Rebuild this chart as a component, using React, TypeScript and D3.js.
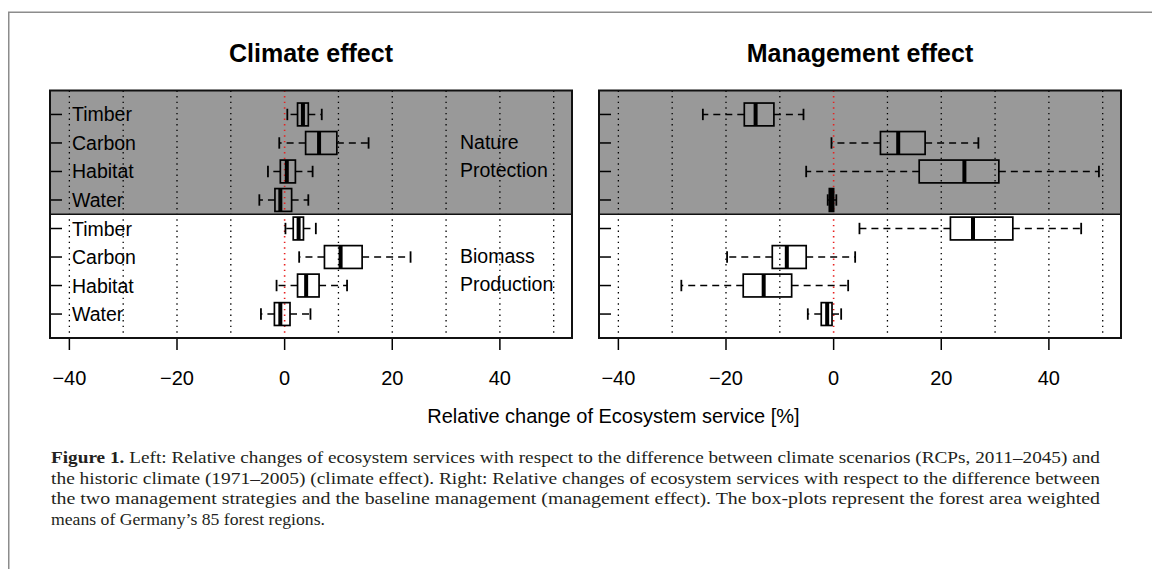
import React from 'react';
import * as d3 from 'd3';

// box stats per row: [lower whisker, q1, median, q3, upper whisker]
const services = ['Timber', 'Carbon', 'Habitat', 'Water', 'Timber', 'Carbon', 'Habitat', 'Water'];
const groupLabels = [['Nature', 'Protection'], ['Biomass', 'Production']];

const climateStats = [
  [0.5, 2.4, 3.4, 4.4, 6.9],
  [-1.0, 3.9, 6.4, 9.7, 15.6],
  [-3.1, -0.8, 0.4, 2.0, 5.2],
  [-4.7, -1.8, -0.8, 1.3, 4.4],
  [0.15, 1.6, 2.6, 3.5, 5.8],
  [2.7, 7.4, 10.4, 14.4, 23.4],
  [-1.5, 2.4, 4.0, 6.4, 11.6],
  [-4.4, -1.9, -0.8, 1.0, 4.8],
];

const managementStats = [
  [-24.3, -16.6, -14.5, -11.1, -5.6],
  [-0.4, 8.7, 12.0, 17.0, 26.9],
  [-5.1, 15.9, 24.3, 30.7, 49.3],
  [-1.1, -0.8, -0.4, 0.0, 0.5],
  [4.8, 21.7, 25.9, 33.3, 46.0],
  [-19.8, -11.4, -8.7, -5.1, 4.0],
  [-28.3, -16.8, -13.0, -7.8, 2.7],
  [-4.8, -2.3, -1.2, -0.3, 1.4],
];

const xTicks = [-40, -20, 0, 20, 40];
const gridValues = [-40, -30, -20, -10, 0, 10, 20, 30, 40, 50];

const captionLines = [
  'Left: Relative changes of ecosystem services with respect to the difference between climate scenarios (RCPs, 2011\u20132045) and',
  'the historic climate (1971\u20132005) (climate effect). Right: Relative changes of ecosystem services with respect to the difference between',
  'the two management strategies and the baseline management (management effect). The box-plots represent the forest area weighted',
  'means of Germany\u2019s 85 forest regions.',
];

const SANS = '"Liberation Sans", Arial, Helvetica, sans-serif';
const SERIF = '"Liberation Serif", "Times New Roman", serif';

const yScale = d3.scaleLinear().domain([0.16, 8.84]).range([90.5, 338]);

interface PanelProps {
  left: number;
  right: number;
  title: string;
  stats: number[][];
  showLabels: boolean;
}

const Panel: React.FC<PanelProps> = ({ left, right, title, stats, showLabels }) => {
  const x = d3.scaleLinear().domain([-43.6, 53.4]).range([left, right]);
  const [y0, y1] = yScale.range();
  const rows = d3.range(1, 9);
  const half = yScale(1.4) - yScale(1);
  const cap = yScale(1.2) - yScale(1);

  return (
    <g>
      <text x={(left + right) / 2} y={61.5} textAnchor="middle" fontFamily={SANS}
        fontWeight="bold" fontSize={25}>{title}</text>
      <rect x={left} y={y0} width={right - left} height={yScale(4.5) - y0} fill="#999999" />
      {gridValues.map(v => (
        <line key={v} x1={x(v)} x2={x(v)} y1={y0} y2={y1}
          stroke={v === 0 ? '#e8211f' : '#000'} strokeWidth={v === 0 ? 1.6 : 1.3} strokeDasharray="1.4 4.2" />
      ))}
      <line x1={left} x2={right} y1={yScale(4.5)} y2={yScale(4.5)} stroke="#111" strokeWidth={1.6} />
      {stats.map((s, i) => {
        const cy = yScale(rows[i]);
        const [lo, q1, med, q3, hi] = s;
        return (
          <g key={i}>
            <line x1={x(q1)} x2={x(lo)} y1={cy} y2={cy} stroke="#000" strokeWidth={1.5} strokeDasharray="7 5" />
            <line x1={x(q3)} x2={x(hi)} y1={cy} y2={cy} stroke="#000" strokeWidth={1.5} strokeDasharray="7 5" />
            <line x1={x(lo)} x2={x(lo)} y1={cy - cap} y2={cy + cap} stroke="#000" strokeWidth={1.8} />
            <line x1={x(hi)} x2={x(hi)} y1={cy - cap} y2={cy + cap} stroke="#000" strokeWidth={1.8} />
            <rect x={x(q1)} y={cy - half} width={x(q3) - x(q1)} height={2 * half}
              fill="none" stroke="#000" strokeWidth={1.7} />
            <line x1={x(med)} x2={x(med)} y1={cy - half} y2={cy + half} stroke="#000" strokeWidth={4} />
          </g>
        );
      })}
      {rows.map(r => (
        <line key={r} x1={left} x2={left + 12} y1={yScale(r)} y2={yScale(r)} stroke="#000" strokeWidth={1.5} />
      ))}
      {showLabels && services.map((s, i) => (
        <text key={i} x={left + 22} y={yScale(rows[i])} dy="0.36em" fontFamily={SANS} fontSize={19.5}>{s}</text>
      ))}
      {showLabels && groupLabels.map((g, gi) => g.map((t, ti) => (
        <text key={gi + '-' + ti} x={left + 410} y={yScale(2 + gi * 4 + ti)} dy="0.3em"
          fontFamily={SANS} fontSize={19.5}>{t}</text>
      )))}
      {xTicks.map(t => (
        <g key={t}>
          <line x1={x(t)} x2={x(t)} y1={y1} y2={y1 + 12} stroke="#000" strokeWidth={1.5} />
          <text x={x(t)} y={385} textAnchor="middle" fontFamily={SANS} fontSize={20}>
            {t < 0 ? '\u2212' + Math.abs(t) : String(t)}
          </text>
        </g>
      ))}
      <rect x={left} y={y0} width={right - left} height={y1 - y0} fill="none" stroke="#111" strokeWidth={2} />
    </g>
  );
};

export default function App() {
  const capX = 51;
  const capRight = 1100;
  const capY = [463, 483.5, 504, 524.5];
  return (
    <svg width={1152} height={569} style={{ position: 'absolute', left: 0, top: 0, background: '#fff' }}>
      <path d="M8.75,569 V12.25 H1152" fill="none" stroke="#8c8c8c" strokeWidth={1.5} />
      <Panel left={50} right={572} title="Climate effect" stats={climateStats} showLabels={true} />
      <Panel left={599} right={1121} title="Management effect" stats={managementStats} showLabels={false} />
      <text x={613.5} y={423} textAnchor="middle" fontFamily={SANS} fontSize={20}>
        Relative change of Ecosystem service [%]
      </text>
      {captionLines.map((line, i) => (
        <text key={i} x={capX} y={capY[i]} fontFamily={SERIF} fontSize={17.6} fill="#231f20"
          textLength={i < 3 ? capRight - capX : 274} lengthAdjust="spacingAndGlyphs">
          {i === 0 ? <tspan fontWeight="bold">Figure 1. </tspan> : null}
          {line}
        </text>
      ))}
    </svg>
  );
}
